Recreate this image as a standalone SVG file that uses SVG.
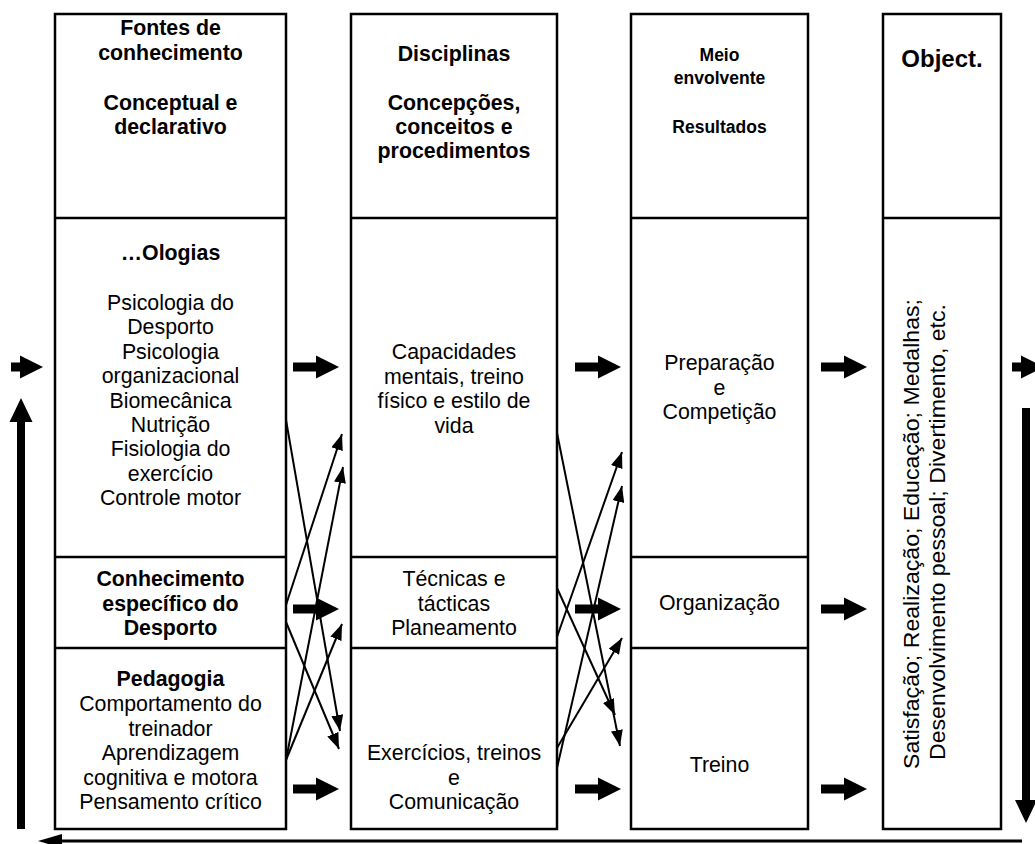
<svg xmlns="http://www.w3.org/2000/svg" width="1035" height="844" viewBox="0 0 1035 844">
<style>
  .box{fill:#fff;stroke:#000;stroke-width:2.5}
  .div{stroke:#000;stroke-width:2.5}
  text{font-family:"Liberation Sans",Arial,sans-serif;fill:#000;text-anchor:middle}
  .h{font-size:21.33px;font-weight:bold}
  .h3{font-size:17.5px;font-weight:bold}
  .ob{font-size:24px;font-weight:bold}
  .t{font-size:21.33px}
  .rt{font-size:22px}
  .thin{stroke:#000;stroke-width:2;fill:none;marker-end:url(#ah)}
  .blk{fill:#000}
</style>
<defs>
  <marker id="ah" markerUnits="userSpaceOnUse" markerWidth="17" markerHeight="12" refX="16" refY="6" orient="auto">
    <path d="M0,0 L16,6 L0,12 Z" fill="#000"/>
  </marker>
  <path id="tarrow" d="M0,-4.5 H23 V-11.5 L46,0 L23,11.5 V4.5 H0 Z"/>
  <path id="sarrow" d="M0,-4.5 H9 V-11.5 L32,0 L9,11.5 V4.5 H0 Z"/>
</defs>

<g id="col1">
  <rect class="box" x="55" y="14" width="231" height="815"/>
  <line class="div" x1="55" y1="218" x2="286" y2="218"/>
  <line class="div" x1="55" y1="557" x2="286" y2="557"/>
  <line class="div" x1="55" y1="648" x2="286" y2="648"/>
  <text class="h" x="170.5" y="35">Fontes de</text>
  <text class="h" x="170.5" y="60">conhecimento</text>
  <text class="h" x="170.5" y="110">Conceptual e</text>
  <text class="h" x="170.5" y="134">declarativo</text>
  <text class="h" x="170.5" y="260">…Ologias</text>
  <text class="t" x="170.5" y="310">Psicologia do</text>
  <text class="t" x="170.5" y="334.4">Desporto</text>
  <text class="t" x="170.5" y="358.8">Psicologia</text>
  <text class="t" x="170.5" y="383.2">organizacional</text>
  <text class="t" x="170.5" y="407.6">Biomecânica</text>
  <text class="t" x="170.5" y="432">Nutrição</text>
  <text class="t" x="170.5" y="456.4">Fisiologia do</text>
  <text class="t" x="170.5" y="480.8">exercício</text>
  <text class="t" x="170.5" y="505.2">Controle motor</text>
  <text class="h" x="170.5" y="586">Conhecimento</text>
  <text class="h" x="170.5" y="610.5">específico do</text>
  <text class="h" x="170.5" y="635">Desporto</text>
  <text class="h" x="170.5" y="686">Pedagogia</text>
  <text class="t" x="170.5" y="711">Comportamento do</text>
  <text class="t" x="170.5" y="735.5">treinador</text>
  <text class="t" x="170.5" y="760">Aprendizagem</text>
  <text class="t" x="170.5" y="784.5">cognitiva e motora</text>
  <text class="t" x="170.5" y="809">Pensamento crítico</text>
</g>

<g id="col2">
  <rect class="box" x="351" y="14" width="206" height="815"/>
  <line class="div" x1="351" y1="218" x2="557" y2="218"/>
  <line class="div" x1="351" y1="557" x2="557" y2="557"/>
  <line class="div" x1="351" y1="648" x2="557" y2="648"/>
  <text class="h" x="454" y="61">Disciplinas</text>
  <text class="h" x="454" y="110">Concepções,</text>
  <text class="h" x="454" y="134">conceitos e</text>
  <text class="h" x="454" y="158">procedimentos</text>
  <text class="t" x="454" y="359">Capacidades</text>
  <text class="t" x="454" y="383.5">mentais, treino</text>
  <text class="t" x="454" y="408">físico e estilo de</text>
  <text class="t" x="454" y="432.5">vida</text>
  <text class="t" x="454" y="586">Técnicas e</text>
  <text class="t" x="454" y="610.5">tácticas</text>
  <text class="t" x="454" y="635">Planeamento</text>
  <text class="t" x="454" y="760">Exercícios, treinos</text>
  <text class="t" x="454" y="784.5">e</text>
  <text class="t" x="454" y="809">Comunicação</text>
</g>

<g id="col3">
  <rect class="box" x="631" y="14" width="177" height="815"/>
  <line class="div" x1="631" y1="218" x2="808" y2="218"/>
  <line class="div" x1="631" y1="557" x2="808" y2="557"/>
  <line class="div" x1="631" y1="648" x2="808" y2="648"/>
  <text class="h3" x="719.5" y="61">Meio</text>
  <text class="h3" x="719.5" y="84">envolvente</text>
  <text class="h3" x="719.5" y="133">Resultados</text>
  <text class="t" x="719.5" y="370">Preparação</text>
  <text class="t" x="719.5" y="394.5">e</text>
  <text class="t" x="719.5" y="419">Competição</text>
  <text class="t" x="719.5" y="610">Organização</text>
  <text class="t" x="719.5" y="772">Treino</text>
</g>

<g id="col4">
  <rect class="box" x="883" y="14" width="118" height="815"/>
  <line class="div" x1="883" y1="218" x2="1001" y2="218"/>
  <text class="ob" x="942" y="67">Object.</text>
  <text class="rt" transform="translate(918.5,534) rotate(-90)" x="0" y="0" textLength="470" lengthAdjust="spacingAndGlyphs">Satisfação; Realização; Educação; Medalhas;</text>
  <text class="rt" transform="translate(944.5,532) rotate(-90)" x="0" y="0" textLength="456" lengthAdjust="spacingAndGlyphs">Desenvolvimento pessoal; Divertimento, etc.</text>
</g>

<g id="connectors">
  <use href="#sarrow" x="11" y="367" class="blk"/>
  <use href="#tarrow" x="293" y="367" class="blk"/>
  <use href="#tarrow" x="575" y="367" class="blk"/>
  <use href="#tarrow" x="821" y="367" class="blk"/>
  <use href="#sarrow" x="1012" y="367" class="blk"/>
  <use href="#tarrow" x="293" y="609" class="blk"/>
  <use href="#tarrow" x="575" y="609" class="blk"/>
  <use href="#tarrow" x="821" y="609" class="blk"/>
  <use href="#tarrow" x="293" y="789" class="blk"/>
  <use href="#tarrow" x="575" y="789" class="blk"/>
  <use href="#tarrow" x="821" y="789" class="blk"/>
  <path class="blk" d="M17,829 V422 H9.5 L21,398 L32.5,422 H25 V829 Z"/>
  <path class="blk" d="M1022,408 V800 H1015 L1026,823 L1037,800 H1030 V408 Z"/>
  <line x1="1022" y1="841" x2="60" y2="841" stroke="#000" stroke-width="3"/>
  <path class="blk" d="M38,841 L62,834 L62,848 Z"/>
  <line class="thin" x1="286" y1="420" x2="340" y2="731"/>
  <line class="thin" x1="286" y1="605" x2="342" y2="434"/>
  <line class="thin" x1="286" y1="760" x2="343" y2="467"/>
  <line class="thin" x1="286" y1="760" x2="342" y2="624"/>
  <line class="thin" x1="286" y1="622" x2="339" y2="749"/>
  <line class="thin" x1="557" y1="433" x2="620" y2="746"/>
  <line class="thin" x1="557" y1="588" x2="615" y2="715"/>
  <line class="thin" x1="557" y1="637" x2="622" y2="452"/>
  <line class="thin" x1="557" y1="768" x2="622" y2="486"/>
  <line class="thin" x1="557" y1="748" x2="622" y2="638"/>
</g>
</svg>
